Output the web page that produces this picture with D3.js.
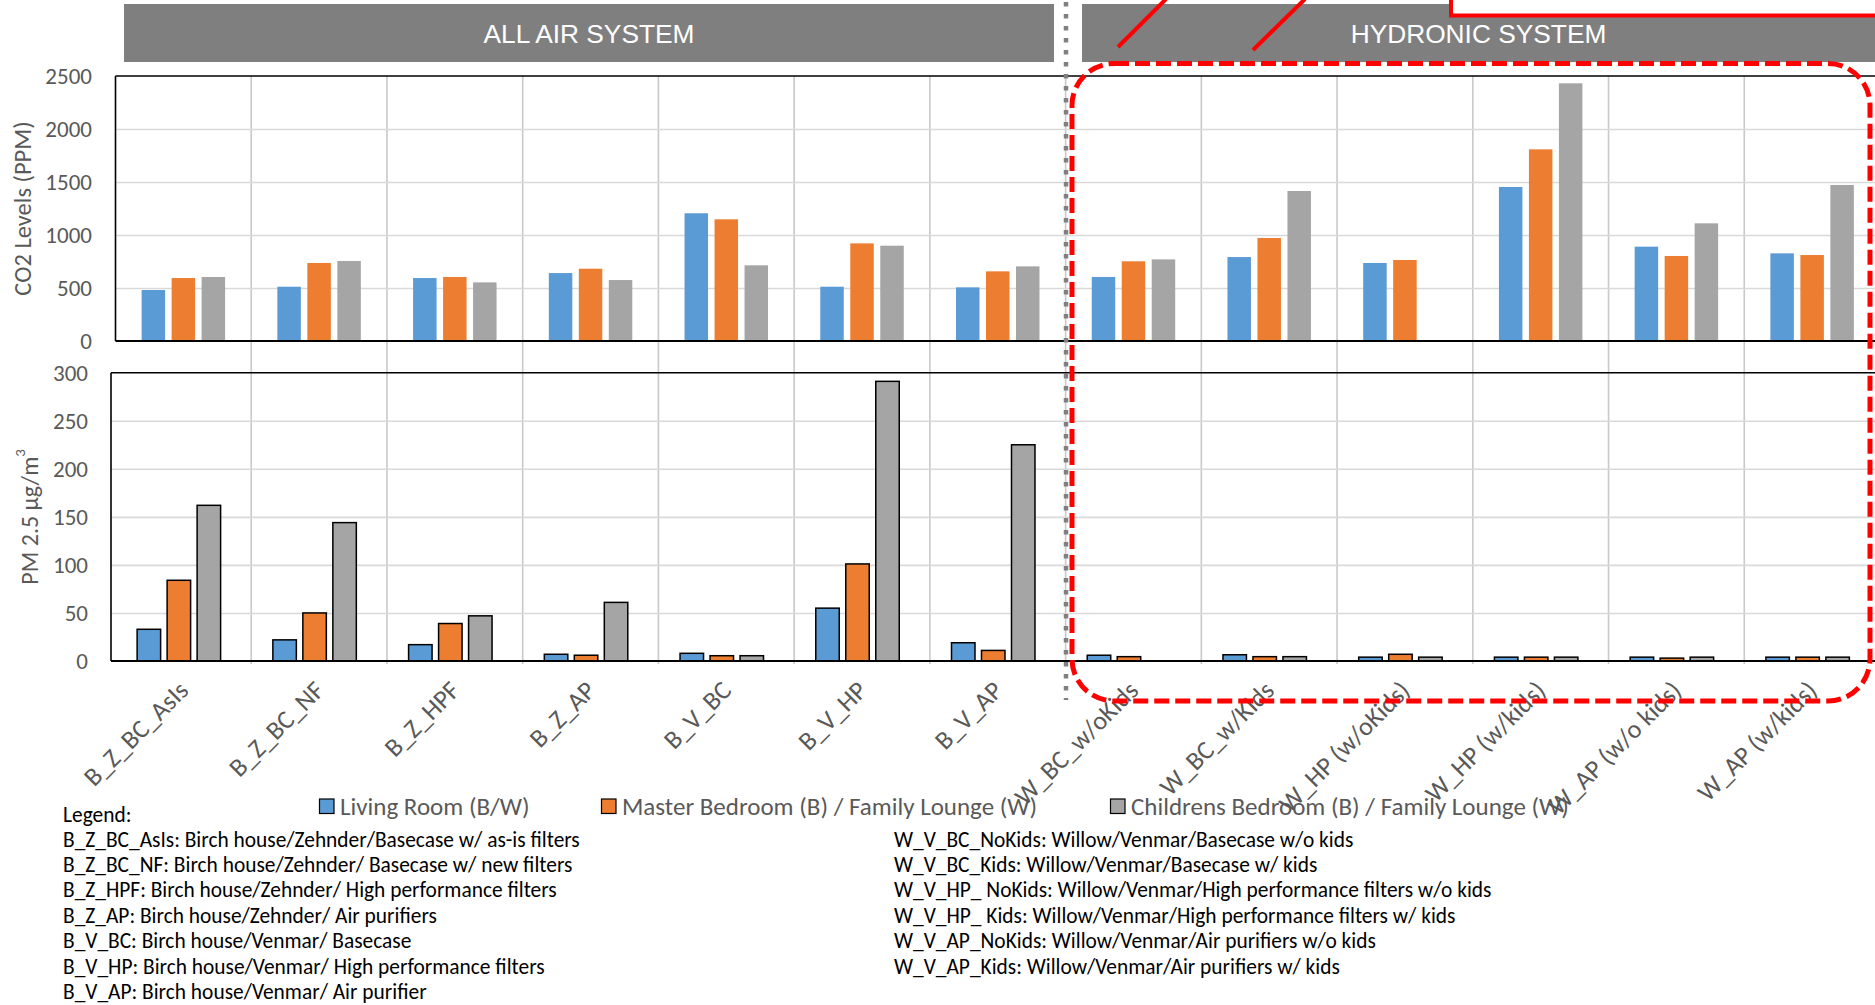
<!DOCTYPE html>
<html><head><meta charset="utf-8">
<script src="https://cdn.jsdelivr.net/npm/d3@7"></script>
<style>
html,body{margin:0;padding:0;background:#fff;}
svg{display:block;}
</style></head>
<body>
<svg id="chart" width="1875" height="1005"></svg>
<script>
// ---------------- DATA ----------------
const categories = ["B_Z_BC_AsIs","B_Z_BC_NF","B_Z_HPF","B_Z_AP","B_V_BC","B_V_HP","B_V_AP",
  "W_BC_w/oKids","W_BC_w/Kids","W_HP (w/oKids)","W_HP (w/kids)","W_AP (w/o kids)","W_AP (w/kids)"];
const seriesNames = ["Living Room (B/W)","Master Bedroom (B) / Family Lounge (W)","Childrens Bedroom (B) / Family Lounge (W)"];
const seriesColors = ["#5b9bd5","#ed7d31","#a5a5a5"];

const co2Living   = [481, 512, 594, 641, 1205, 512, 506, 604, 792, 736, 1453, 890, 827];
const co2Master   = [594, 736, 604, 682, 1148, 921, 657, 752, 972, 764, 1808, 802, 811];
const co2Children = [604, 755, 553, 575, 714, 899, 704, 770, 1415, 6, 2431, 1110, 1472];

const pmLiving   = [33, 22, 17, 7, 8, 55, 19, 6, 6.5, 4, 4, 4, 4];
const pmMaster   = [84, 50, 39, 6, 5.5, 101, 11, 4.5, 4.5, 7, 4, 3, 4];
const pmChildren = [162, 144, 47, 61, 5.5, 291, 225, 0, 4.5, 4, 4, 4, 4];

const co2Ticks = [0, 500, 1000, 1500, 2000, 2500];
const pmTicks  = [0, 50, 100, 150, 200, 250, 300];

const headerLabels = ["ALL AIR SYSTEM", "HYDRONIC SYSTEM"];
const legendTitle = "Legend:";
const legendLeft = [
  "B_Z_BC_AsIs: Birch house/Zehnder/Basecase w/ as-is filters",
  "B_Z_BC_NF: Birch house/Zehnder/ Basecase w/ new filters",
  "B_Z_HPF: Birch house/Zehnder/ High performance filters",
  "B_Z_AP: Birch house/Zehnder/ Air purifiers",
  "B_V_BC: Birch house/Venmar/ Basecase",
  "B_V_HP: Birch house/Venmar/ High performance filters",
  "B_V_AP: Birch house/Venmar/ Air purifier"
];
const legendRight = [
  "W_V_BC_NoKids: Willow/Venmar/Basecase w/o kids",
  "W_V_BC_Kids: Willow/Venmar/Basecase w/ kids",
  "W_V_HP_ NoKids: Willow/Venmar/High performance filters w/o kids",
  "W_V_HP_ Kids: Willow/Venmar/High performance filters w/ kids",
  "W_V_AP_NoKids: Willow/Venmar/Air purifiers w/o kids",
  "W_V_AP_Kids: Willow/Venmar/Air purifiers w/ kids"
];

// ---------------- LAYOUT ----------------
const FONT = "Carlito, Calibri, Lato, sans-serif";
const svg = d3.select("#chart");
const step = 135.73;
const topP = {left:115.5, top:76, bottom:341};
const botP = {left:111, top:372.7, bottom:661};
const nCat = categories.length;

const xTop = d3.scaleBand().domain(categories).range([topP.left, topP.left + nCat*step]);
const xBot = d3.scaleBand().domain(categories).range([botP.left, botP.left + nCat*step]);
const groupW = step*0.615;
const xSub = d3.scaleBand().domain([0,1,2]).range([(step-groupW)/2,(step+groupW)/2]).paddingInner(0.217);

const yTop = d3.scaleLinear().domain([0,2500]).range([topP.bottom, topP.top]);
const yBot = d3.scaleLinear().domain([0,300]).range([botP.bottom, botP.top]);

const W = 1875;

// ---------------- HEADERS ----------------
svg.append("rect").attr("x",124).attr("y",4).attr("width",1054-124).attr("height",58).attr("fill","#7f7f7f");
svg.append("rect").attr("x",1082).attr("y",4).attr("width",W-1082).attr("height",58).attr("fill","#7f7f7f");
svg.append("text").attr("x",(124+1054)/2).attr("y",43).attr("text-anchor","middle")
  .attr("font-family","'Liberation Sans', Arial, sans-serif").attr("font-size",26.3).attr("fill","#fff").text(headerLabels[0]);
svg.append("text").attr("x",(1082+1875)/2).attr("y",43).attr("text-anchor","middle")
  .attr("font-family","'Liberation Sans', Arial, sans-serif").attr("font-size",26.3).attr("fill","#fff").text(headerLabels[1]);

// ---------------- GRID ----------------
const grid = svg.append("g");
d3.range(1, nCat).forEach(i => {
  const gx = xTop.range()[0] + i*xTop.step();
  grid.append("line").attr("x1",gx).attr("x2",gx).attr("y1",topP.top).attr("y2",664)
    .attr("stroke","#c9c9c9").attr("stroke-width",1.6);
});

function yAxisPanel(y, ticks, P, labelRight) {
  const g = svg.append("g").attr("transform",`translate(${P.left},0)`);
  g.call(d3.axisLeft(y).tickValues(ticks).tickSize(-(W - P.left + 10)).tickPadding(P.left - labelRight).tickFormat(d3.format("d")));
  g.select(".domain").remove();
  g.selectAll(".tick line").attr("stroke","#d9d9d9").attr("stroke-width",1.6)
    .filter(d => d === 0 || d === ticks[ticks.length-1]).attr("stroke","none");
  g.selectAll(".tick text").attr("font-family",FONT).attr("font-size",23).attr("fill","#595959");
  return g;
}
yAxisPanel(yTop, co2Ticks, topP, 92);
yAxisPanel(yBot, pmTicks, botP, 88);

// ---------------- BARS ----------------
const co2Series = [co2Living, co2Master, co2Children];
const pmSeries = [pmLiving, pmMaster, pmChildren];

co2Series.forEach((vals, s) => {
  svg.append("g").selectAll("rect").data(vals).join("rect")
    .attr("x",(d,i) => xTop(categories[i]) + xSub(s))
    .attr("width", xSub.bandwidth())
    .attr("y", d => yTop(d))
    .attr("height", d => yTop(0) - yTop(d))
    .attr("fill", seriesColors[s]);
});
pmSeries.forEach((vals, s) => {
  svg.append("g").selectAll("rect").data(vals).join("rect")
    .attr("x",(d,i) => xBot(categories[i]) + xSub(s))
    .attr("width", xSub.bandwidth())
    .attr("y", d => yBot(d))
    .attr("height", d => yBot(0) - yBot(d))
    .attr("fill", seriesColors[s])
    .attr("stroke", d => d > 0 ? "#000" : "none").attr("stroke-width",1.5);
});

function border(P) {
  svg.append("line").attr("x1",P.left).attr("x2",W+5).attr("y1",P.top).attr("y2",P.top).attr("stroke","#000").attr("stroke-width",1.6);
  svg.append("line").attr("x1",P.left).attr("x2",W+5).attr("y1",P.bottom).attr("y2",P.bottom).attr("stroke","#000").attr("stroke-width",2);
  svg.append("line").attr("x1",P.left).attr("x2",P.left).attr("y1",P.top).attr("y2",P.bottom).attr("stroke","#000").attr("stroke-width",1.6);
}
border(topP);
border(botP);

// ---------------- X AXIS LABELS ----------------
const xg = svg.append("g").attr("transform",`translate(0,${botP.bottom})`)
  .call(d3.axisBottom(xBot).tickSize(0));
xg.select(".domain").remove();
xg.selectAll(".tick text")
  .attr("x",0).attr("y",0).attr("dy",0)
  .attr("transform","translate(11,31) rotate(-45)")
  .style("text-anchor","end")
  .attr("font-family",FONT).attr("font-size",26).attr("fill","#595959");

// ---------------- AXIS TITLES ----------------
svg.append("text").attr("transform",`translate(23,${(topP.top+topP.bottom)/2}) rotate(-90)`)
  .attr("text-anchor","middle").attr("dominant-baseline","central")
  .attr("font-family",FONT).attr("font-size",24.5).attr("fill","#595959").text("CO2 Levels (PPM)");
const pmT = svg.append("text").attr("transform",`translate(29,${(botP.top+botP.bottom)/2}) rotate(-90)`)
  .attr("text-anchor","middle").attr("dominant-baseline","central")
  .attr("font-family",FONT).attr("font-size",24).attr("fill","#595959");
pmT.append("tspan").text("PM 2.5 µg/m");
pmT.append("tspan").attr("font-size",15).attr("dy",-9).text("3");

// ---------------- DIVIDER & ANNOTATIONS ----------------
svg.append("line").attr("x1",1066).attr("x2",1066).attr("y1",2).attr("y2",700)
  .attr("stroke","#808080").attr("stroke-width",4.5).attr("stroke-dasharray","4.5,7.5");

svg.append("rect").attr("x",1072).attr("y",63.5).attr("width",1870-1072).attr("height",701-63.5)
  .attr("rx",42).attr("ry",42).attr("fill","none").attr("stroke","#ff0000")
  .attr("stroke-width",5).attr("stroke-dasharray","15,6");

svg.append("rect").attr("x",1451).attr("y",-20).attr("width",500).attr("height",35.5)
  .attr("fill","#fff").attr("stroke","#ff0000").attr("stroke-width",4);
svg.append("line").attr("x1",1118).attr("y1",47).attr("x2",1166).attr("y2",-1).attr("stroke","#ff0000").attr("stroke-width",4);
svg.append("line").attr("x1",1253).attr("y1",50).attr("x2",1305).attr("y2",-1).attr("stroke","#ff0000").attr("stroke-width",4);

// ---------------- SERIES LEGEND ----------------
const legX = [319.5, 601.5, 1110.5];
seriesNames.forEach((n, s) => {
  svg.append("rect").attr("x",legX[s]).attr("y",799).attr("width",14.5).attr("height",14.5)
    .attr("fill",seriesColors[s]).attr("stroke","#000").attr("stroke-width",1.2);
  svg.append("text").attr("x",legX[s]+20.5).attr("y",815).attr("font-family",FONT)
    .attr("font-size",25).attr("fill","#595959").text(n);
});

// ---------------- TEXT LEGEND ----------------
const LF = 21.4;
svg.append("text").attr("x",63).attr("y",822).attr("font-family",FONT).attr("font-size",LF).attr("fill","#000").text(legendTitle);
legendLeft.forEach((t,i) => {
  svg.append("text").attr("x",63).attr("y",846.5 + i*25.4).attr("font-family",FONT).attr("font-size",LF).attr("fill","#000").text(t);
});
legendRight.forEach((t,i) => {
  svg.append("text").attr("x",894).attr("y",846.5 + i*25.4).attr("font-family",FONT).attr("font-size",LF).attr("fill","#000").text(t);
});
</script>
</body></html>
